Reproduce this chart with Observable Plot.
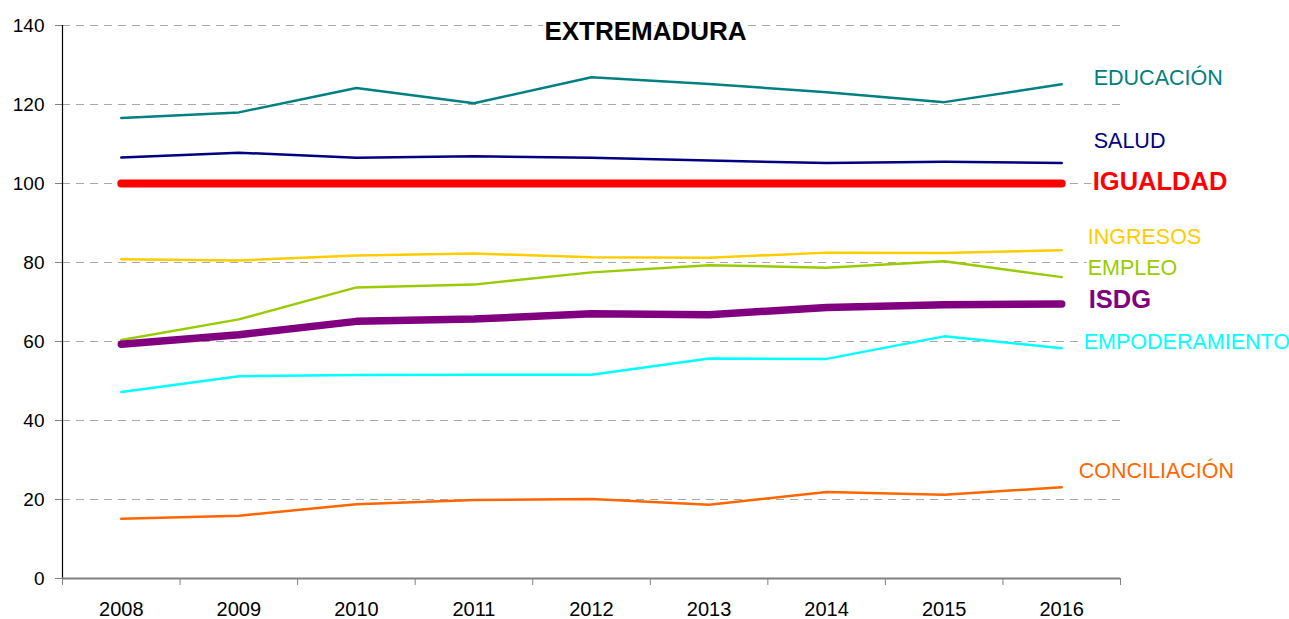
<!DOCTYPE html>
<html>
<head>
<meta charset="utf-8">
<script src="https://cdn.jsdelivr.net/npm/d3@7"></script>
<script src="https://cdn.jsdelivr.net/npm/@observablehq/plot@0.6"></script>
<style>
  html, body { margin: 0; padding: 0; background: #fff; }
  #chart svg { display: block; }
</style>
</head>
<body>
<div id="chart"></div>
<script>
// ---- data ----
const title = "EXTREMADURA";
const years = [2008, 2009, 2010, 2011, 2012, 2013, 2014, 2015, 2016];
const yTicks = [0, 20, 40, 60, 80, 100, 120, 140];

const seriesNames = ["EDUCACIÓN", "SALUD", "IGUALDAD", "INGRESOS", "EMPLEO", "ISDG", "EMPODERAMIENTO", "CONCILIACIÓN"];
const educacion      = [116.6, 118.0, 124.2, 120.3, 126.9, 125.2, 123.1, 120.6, 125.1];
const salud          = [106.6, 107.8, 106.5, 106.9, 106.5, 105.8, 105.2, 105.5, 105.2];
const igualdad       = [100, 100, 100, 100, 100, 100, 100, 100, 100];
const ingresos       = [80.8, 80.5, 81.8, 82.3, 81.3, 81.2, 82.5, 82.4, 83.1];
const empleo         = [60.4, 65.6, 73.7, 74.4, 77.5, 79.3, 78.7, 80.3, 76.3];
const isdg           = [59.3, 61.7, 65.1, 65.7, 67.0, 66.8, 68.6, 69.3, 69.5];
const empoderamiento = [47.2, 51.2, 51.5, 51.6, 51.6, 55.7, 55.6, 61.3, 58.3];
const conciliacion   = [15.1, 15.9, 18.8, 19.9, 20.1, 18.7, 21.9, 21.2, 23.1];

const seriesValues = [educacion, salud, igualdad, ingresos, empleo, isdg, empoderamiento, conciliacion];

// ---- styles (not data) ----
const colors = {
  "EDUCACIÓN": "#008080", "SALUD": "#000080", "IGUALDAD": "#FF0000", "INGRESOS": "#FFCC00",
  "EMPLEO": "#99CC00", "ISDG": "#800080", "EMPODERAMIENTO": "#00FFFF", "CONCILIACIÓN": "#FF6600"
};
const widths = { "IGUALDAD": 8, "ISDG": 7.5 };
const labelStyle = {
  "EDUCACIÓN":      { dx: 32, dy: -6,  size: 21.5, weight: "normal" },
  "SALUD":          { dx: 32, dy: -22, size: 21.5, weight: "normal" },
  "IGUALDAD":       { dx: 31, dy: -2,  size: 25.5, weight: "bold" },
  "INGRESOS":       { dx: 26, dy: -13, size: 21.5, weight: "normal" },
  "EMPLEO":         { dx: 26, dy: -9,  size: 21.5, weight: "normal" },
  "ISDG":           { dx: 27, dy: -4,  size: 25.5, weight: "bold" },
  "EMPODERAMIENTO": { dx: 22, dy: -6,  size: 21.5, weight: "normal" },
  "CONCILIACIÓN":   { dx: 17, dy: -16, size: 21.5, weight: "normal" }
};

// ---- tidy table built from the arrays ----
const rows = [];
seriesNames.forEach((name, i) => {
  years.forEach((yr, j) => rows.push({ serie: name, year: yr, value: seriesValues[i][j] }));
});
const xDomain = [years[0] - 0.5, years[years.length - 1] + 0.5];
const boundaries = years.map(y => y - 0.5).concat([xDomain[1]]);

const lineMarks = seriesNames.map(name =>
  Plot.line(rows.filter(r => r.serie === name), {
    x: "year", y: "value",
    stroke: colors[name],
    strokeWidth: widths[name] || 2.5,
    strokeLinecap: "round",
    strokeLinejoin: "round"
  })
);

const labelMarks = seriesNames.map(name => {
  const s = labelStyle[name];
  const last = rows.filter(r => r.serie === name).at(-1);
  return Plot.text([last], {
    x: "year", y: "value", text: d => d.serie,
    textAnchor: "start", lineAnchor: "middle",
    dx: s.dx, dy: s.dy, fontSize: s.size, fontWeight: s.weight,
    fill: colors[name],
    stroke: "white", strokeWidth: 6, paintOrder: "stroke"
  });
});

const chart = Plot.plot({
  width: 1289,
  height: 619,
  marginTop: 25,
  marginRight: 169,
  marginBottom: 41,
  marginLeft: 62,
  style: { fontFamily: "'Liberation Sans', Arial, sans-serif", color: "black", background: "white" },
  x: { domain: xDomain, label: null },
  y: { domain: [0, 140], label: null },
  marks: [
    Plot.ruleY(yTicks.filter(v => v > 0), { stroke: "#a8a8a8", strokeDasharray: "8,6", strokeWidth: 1 }),
    Plot.axisY(yTicks, { label: null, tickSize: 7, tickPadding: 11, fontSize: 19, stroke: "#808080", fill: "black" }),
    Plot.axisX(boundaries, { label: null, tickSize: 7, tickFormat: () => "", stroke: "#808080" }),
    Plot.axisX(years, { label: null, tickSize: 0, tickPadding: 23, fontSize: 20, tickFormat: d => String(d), fill: "black" }),
    Plot.ruleX([xDomain[0]], { stroke: "black", strokeWidth: 1.2 }),
    Plot.ruleY([0], { stroke: "#808080", strokeWidth: 2 }),
    ...lineMarks,
    ...labelMarks,
    Plot.text([title], {
      frameAnchor: "top", dx: 54, dy: 6, lineAnchor: "middle",
      fontSize: 26, fontWeight: "bold", fill: "black",
      stroke: "white", strokeWidth: 6, paintOrder: "stroke"
    })
  ]
});

document.getElementById("chart").appendChild(chart);
</script>
</body>
</html>
